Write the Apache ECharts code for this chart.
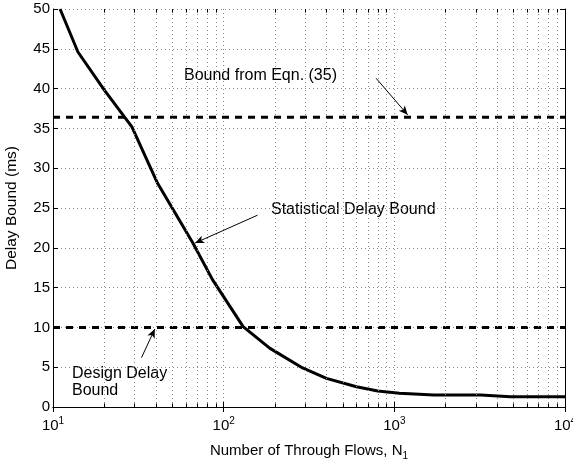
<!DOCTYPE html>
<html>
<head>
<meta charset="utf-8">
<script src="https://cdn.jsdelivr.net/npm/echarts@6/dist/echarts.min.js"></script>
<style>
  html, body { margin: 0; padding: 0; background: #fff; }
  #chart { width: 573px; height: 461px; }
</style>
</head>
<body>
<div id="chart"></div>
<script>
// statistical delay bound curve
const flowsN = [11, 14, 20, 29, 41, 66, 86, 130, 186, 290, 400, 600, 800, 1070, 1400, 1700, 3200, 4800, 10000];
const delayMs = [50, 44.6, 39.8, 35.2, 28.1, 20.6, 16.0, 10.1, 7.4, 4.9, 3.6, 2.55, 2.0, 1.72, 1.6, 1.5, 1.5, 1.3, 1.3];
// horizontal bounds
const eqnBound = 36.4;
const designBound = 10;
const xRange = [10, 10000];
// minor log ticks 2..9 per decade
const minorTicks = [20, 30, 40, 50, 60, 70, 80, 90, 200, 300, 400, 500, 600, 700, 800, 900,
                    2000, 3000, 4000, 5000, 6000, 7000, 8000, 9000];
// annotation arrows: [from, to] in data coords
const arrowEqn = [[782, 41.3], [1197, 36.7]];
const arrowStat = [[158, 24.1], [68, 20.6]];
const arrowDesign = [[33, 6.2], [39.5, 9.8]];

const font = 'Liberation Sans, Arial, Helvetica, sans-serif';
let myChart = echarts.init(document.getElementById('chart'));

const gridDot = { color: '#888', width: 1, type: [1, 3] };

let minorLines = minorTicks.map(v => ({ xAxis: v }));
let minorTickMarks = [];
minorTicks.forEach(v => {
  minorTickMarks.push([{ coord: [v, 0] }, { coord: [v, 0.45] }]);
  minorTickMarks.push([{ coord: [v, 50] }, { coord: [v, 49.55] }]);
});

function arrow(a) {
  return [{ coord: a[0], symbol: 'none' }, { coord: a[1], symbol: 'arrow' }];
}

myChart.setOption({
  animation: false,
  textStyle: { fontFamily: font },
  grid: { left: 53, right: 8, top: 9, bottom: 54, containLabel: false, outerBoundsMode: 'none' },
  xAxis: [
    {
      type: 'log', logBase: 10, min: xRange[0], max: xRange[1],
      position: 'bottom',
      axisLine: { lineStyle: { color: '#000', width: 1 } },
      axisTick: { inside: true, length: 5, lineStyle: { color: '#000' } },
      splitLine: { show: true, lineStyle: gridDot },
      axisLabel: {
        color: '#000', margin: 9,
        formatter: v => '{b|10}{s|' + Math.round(Math.log10(v)) + '}',
        rich: {
          b: { fontSize: 15, fontFamily: font, color: '#000' },
          s: { fontSize: 10, fontFamily: font, color: '#000', padding: [0, 0, 10, 0] }
        }
      },
      name: '{a|Number of Through Flows, N}{sub|1}',
      nameLocation: 'middle', nameGap: 34,
      nameTextStyle: {
        rich: {
          a: { fontSize: 15, fontFamily: font, color: '#000' },
          sub: { fontSize: 10, fontFamily: font, color: '#000', padding: [10, 0, 0, 0] }
        }
      }
    },
    {
      type: 'log', logBase: 10, min: xRange[0], max: xRange[1],
      position: 'top',
      axisLine: { lineStyle: { color: '#000', width: 1 } },
      axisTick: { inside: true, length: 5, lineStyle: { color: '#000' } },
      axisLabel: { show: false },
      splitLine: { show: false }
    }
  ],
  yAxis: [
    {
      type: 'value', min: 0, max: 50, interval: 5,
      axisLine: { show: true, lineStyle: { color: '#000', width: 1 } },
      axisTick: { show: true, inside: true, length: 5, lineStyle: { color: '#000' } },
      splitLine: { show: true, lineStyle: gridDot },
      axisLabel: { color: '#000', fontSize: 15, margin: 3 },
      name: 'Delay Bound (ms)',
      nameLocation: 'middle', nameGap: 33,
      nameTextStyle: { color: '#000', fontSize: 15.5 }
    },
    {
      type: 'value', min: 0, max: 50, interval: 5, position: 'right',
      axisLine: { show: true, lineStyle: { color: '#000', width: 1 } },
      axisTick: { show: true, inside: true, length: 5, lineStyle: { color: '#000' } },
      axisLabel: { show: false },
      splitLine: { show: false }
    }
  ],
  series: [
    {
      // minor grid and ticks
      type: 'line', data: [], z: 1, silent: true,
      markLine: {
        silent: true, symbol: 'none', label: { show: false },
        animation: false,
        data: minorLines,
        lineStyle: gridDot
      }
    },
    {
      type: 'line', data: [], z: 2, silent: true,
      markLine: {
        silent: true, symbol: 'none', label: { show: false },
        animation: false,
        data: minorTickMarks,
        lineStyle: { color: '#000', width: 1, type: 'solid' }
      }
    },
    {
      name: 'Bound from Eqn. (35)', type: 'line', z: 3,
      data: [[xRange[0], eqnBound], [xRange[1], eqnBound]],
      symbol: 'none',
      lineStyle: { color: '#000', width: 3, type: [7, 6] }
    },
    {
      name: 'Design Delay Bound', type: 'line', z: 3,
      data: [[xRange[0], designBound], [xRange[1], designBound]],
      symbol: 'none',
      lineStyle: { color: '#000', width: 3, type: [7, 6] }
    },
    {
      name: 'Statistical Delay Bound', type: 'line', z: 4,
      data: flowsN.map((n, i) => [n, delayMs[i]]),
      symbol: 'none', clip: true,
      lineStyle: { color: '#000', width: 3 },
      markLine: {
        silent: true, label: { show: false }, animation: false,
        symbolSize: [6, 9],
        lineStyle: { color: '#000', width: 1, type: 'solid' },
        data: [arrow(arrowEqn), arrow(arrowStat), arrow(arrowDesign)]
      }
    }
  ],
  graphic: [
    { type: 'text', x: 184, y: 76, style: { text: 'Bound from Eqn. (35)', font: '16px ' + font, fill: '#000', verticalAlign: 'middle' } },
    { type: 'text', x: 271, y: 210, style: { text: 'Statistical Delay Bound', font: '16px ' + font, fill: '#000', verticalAlign: 'middle' } },
    { type: 'text', x: 72, y: 374, style: { text: 'Design Delay', font: '16px ' + font, fill: '#000', verticalAlign: 'middle' } },
    { type: 'text', x: 72, y: 391, style: { text: 'Bound', font: '16px ' + font, fill: '#000', verticalAlign: 'middle' } }
  ]
});
</script>
</body>
</html>
